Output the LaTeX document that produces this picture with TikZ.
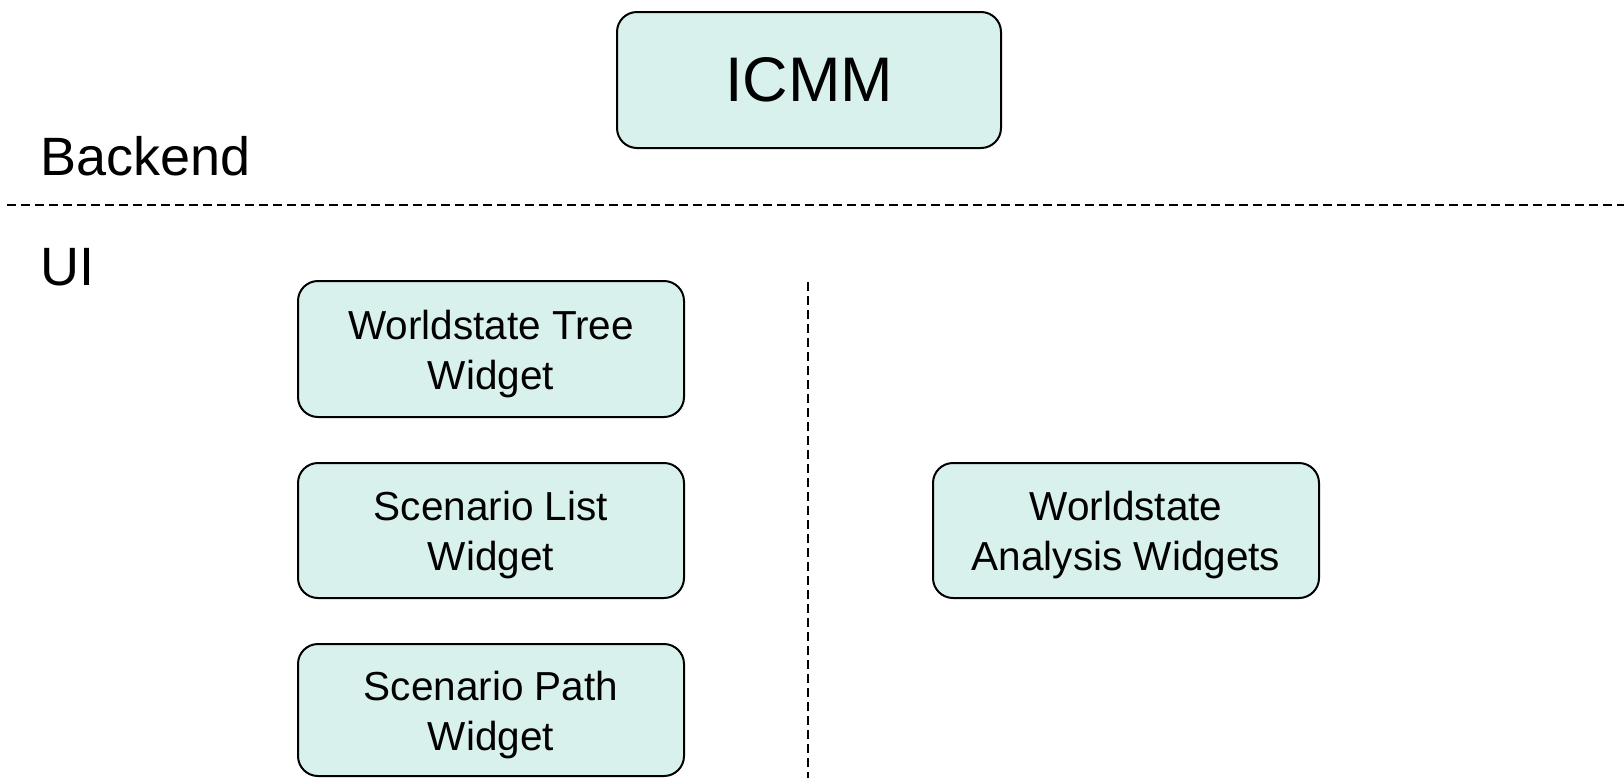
\documentclass[tikz,border=0pt]{standalone}
\usepackage{fontspec}
\setmainfont{Liberation Sans}
\definecolor{boxfill}{RGB}{217,241,237}
\begin{document}
\begin{tikzpicture}[x=1pt,y=-1pt,
  wbox/.style={draw=black, line width=2pt, fill=boxfill, rounded corners=20pt,
    minimum width=386pt, minimum height=136pt, inner sep=0pt},
  wtext/.style={align=center, inner sep=0pt, yshift=-5pt,
    font=\fontsize{40.5}{50}\selectfont},
  lbl/.style={anchor=base west, inner sep=0pt, font=\fontsize{54}{60}\selectfont},
  sep/.style={line width=2.5pt, dash pattern=on 9pt off 5pt}]
\useasboundingbox (0,0) rectangle (1624,777);
\node[wbox, minimum width=384pt, font=\fontsize{63}{70}\selectfont] (icmm) at (809,80) {ICMM};
\node[lbl] (backend) at (40,175) {Backend};
\node[lbl] (ui) at (40,285) {UI};
\coordinate (hl) at (7,205);
\coordinate (hr) at (1626,205);
\draw[sep] (hl) -- (hr);
\coordinate (vt) at (808,282);
\coordinate (vb) at (808,779);
\draw[sep] (vt) -- (vb);
\node[wbox] (wt) at (491,349) {};
\node[wtext] (wtt) at (wt.center) {Worldstate Tree\\Widget};
\node[wbox, minimum height=135pt] (sl) at (491,530.5) {};
\node[wtext] (slt) at (sl.center) {Scenario List\\Widget};
\node[wbox, minimum height=132pt] (sp) at (491,710) {};
\node[wtext] (spt) at (sp.center) {Scenario Path\\Widget};
\node[wbox, minimum height=135pt] (wa) at (1126,530.5) {};
\node[wtext] (wat) at (wa.center) {Worldstate\\Analysis Widgets};
\end{tikzpicture}
\end{document}
